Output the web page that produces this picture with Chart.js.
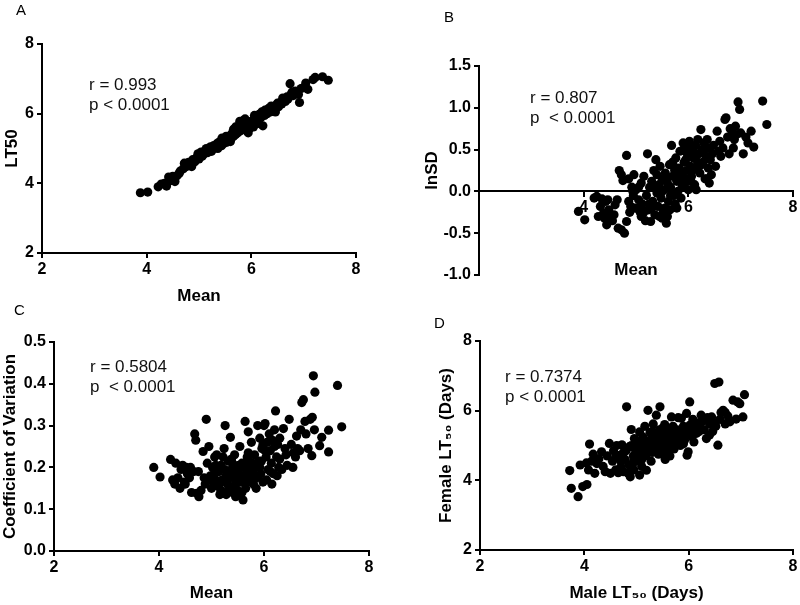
<!DOCTYPE html>
<html>
<head>
<meta charset="utf-8">
<script src="https://cdn.jsdelivr.net/npm/chart.js@4.4.1/dist/chart.umd.min.js"></script>
<style>
  html, body { margin:0; padding:0; background:#fff; }
  #wrap { position:relative; width:800px; height:605px; overflow:hidden; background:#fff; }
  canvas { position:absolute; }
  .lbl { position:absolute; font-family:"Liberation Sans", Arial, Helvetica, sans-serif; color:#000; white-space:pre; z-index:5; }
  .letter { font-size:15px; line-height:15px; }
  .ann { font-size:17px; line-height:20px; color:#111; }
</style>
</head>
<body>
<div id="wrap">
  <canvas id="cA" width="400" height="310" style="left:0px;top:0px;"></canvas>
  <canvas id="cB" width="400" height="300" style="left:400px;top:0px;"></canvas>
  <canvas id="cC" width="400" height="305" style="left:0px;top:300px;"></canvas>
  <canvas id="cD" width="400" height="305" style="left:400px;top:300px;"></canvas>

  <div class="lbl letter" style="left:16px;top:2px;">A</div>
  <div class="lbl letter" style="left:444px;top:9px;">B</div>
  <div class="lbl letter" style="left:14px;top:302px;">C</div>
  <div class="lbl letter" style="left:434px;top:315px;">D</div>

  <div class="lbl ann" style="left:89px;top:75px;">r = 0.993
p &lt; 0.0001</div>
  <div class="lbl ann" style="left:530px;top:88px;">r = 0.807
p  &lt; 0.0001</div>
  <div class="lbl ann" style="left:90px;top:357px;">r = 0.5804
p  &lt; 0.0001</div>
  <div class="lbl ann" style="left:505px;top:367px;">r = 0.7374
p &lt; 0.0001</div>
</div>
<script>
// ---- Data ----
const xTicks = [2, 4, 6, 8];

// Panel A: Mean vs LT50
const panelA = [
 [3.88,3.73],[4.02,3.75],[4.22,3.90],[4.28,3.98],[4.34,4.00],[4.38,3.92],[4.42,4.18],[4.46,4.08],[4.50,4.20],[4.54,4.05],
 [4.58,4.22],[4.64,4.35],[4.70,4.42],[4.72,4.58],[4.76,4.48],[4.80,4.60],[4.84,4.55],[4.88,4.68],[4.92,4.62],[4.96,4.75],
 [5.00,4.70],[5.04,4.90],[5.08,4.82],[5.12,4.95],[5.16,4.88],[5.20,4.98],[5.24,4.92],[5.28,5.08],[5.32,5.02],[5.35,5.15],
 [5.38,5.10],[5.40,5.20],[5.43,5.08],[5.46,5.22],[5.48,5.15],[5.50,5.28],[5.53,5.18],[5.56,5.32],[5.58,5.25],[5.60,5.38],
 [5.62,5.30],[5.64,5.45],[5.66,5.35],[5.68,5.50],[5.70,5.40],[5.72,5.58],[5.74,5.45],[5.76,5.65],[5.78,5.50],[5.80,5.72],
 [5.82,5.55],[5.84,5.80],[5.86,5.60],[5.88,5.68],[5.90,5.52],[5.92,5.75],[5.95,5.65],[5.97,5.58],[6.00,5.78],[6.02,5.70],
 [6.05,5.85],[6.08,5.75],[6.10,5.92],[6.12,5.82],[6.15,5.98],[6.18,5.88],[6.20,6.05],[6.22,5.65],[6.25,5.95],[6.28,6.08],
 [6.30,6.00],[6.33,6.15],[6.36,6.05],[6.40,6.18],[6.44,6.10],[6.48,6.25],[6.52,6.20],[6.55,6.32],[6.58,6.28],[6.62,6.40],
 [6.65,6.35],[6.68,6.48],[6.70,6.42],[6.74,6.86],[6.76,6.55],[6.80,6.52],[6.84,6.65],[6.88,6.60],[6.92,6.32],[6.95,6.72],
 [7.00,6.75],[7.04,6.88],[7.08,6.70],[7.18,6.98],[7.22,7.04],[7.36,7.06],[7.47,6.96],
 [5.06,4.78],[5.22,5.05],[5.36,5.00],[5.52,5.35],[5.60,5.20],[5.70,5.62],[5.78,5.78],[5.88,5.85],[5.94,5.45],[6.04,5.62],
 [6.14,5.72],[6.26,6.10],[6.38,6.22],[6.46,6.05],[6.60,6.45],[6.78,6.62],[6.90,6.55],[4.62,4.28],[4.86,4.48],[4.98,4.85],
 [5.14,5.00],[5.44,5.30],[5.66,5.55],[5.84,5.68],[6.06,5.95],[6.32,6.10],[6.50,6.30]
];

// Panel B: Mean vs lnSD
const panelB = [
 [3.90,-0.24],[4.02,-0.34],[4.20,-0.08],[4.25,-0.06],[4.28,-0.30],[4.32,-0.18],[4.35,-0.09],[4.38,-0.26],[4.40,-0.32],[4.42,-0.12],
 [4.44,-0.40],[4.46,-0.10],[4.48,-0.22],[4.50,-0.30],[4.55,-0.35],[4.60,-0.16],[4.64,-0.10],[4.66,-0.44],[4.72,-0.46],[4.78,-0.50],
 [4.82,-0.36],[4.86,-0.12],[4.88,-0.25],[4.90,-0.18],[4.95,-0.05],
 [4.68,0.25],[4.72,0.20],[4.75,0.13],[4.82,0.43],[4.86,0.15],[4.92,0.05],[4.96,0.20],[5.00,0.02],
 [5.02,-0.20],[5.05,-0.10],[5.08,-0.25],[5.10,0.10],[5.12,-0.15],[5.15,0.18],[5.18,-0.35],[5.20,-0.05],[5.22,0.45],[5.24,-0.22],
 [5.26,0.05],[5.28,-0.36],[5.30,0.12],[5.32,-0.12],[5.34,0.25],[5.36,-0.28],[5.38,0.38],[5.40,-0.02],[5.42,-0.18],[5.44,0.08],
 [5.46,0.30],[5.48,-0.08],[5.50,0.15],[5.52,-0.25],[5.54,0.02],[5.56,0.22],[5.58,-0.38],[5.60,0.10],[5.62,-0.12],[5.64,0.32],
 [5.66,0.05],[5.68,0.55],[5.70,0.18],[5.72,-0.05],[5.74,0.25],[5.76,0.40],[5.78,0.12],[5.80,0.00],[5.82,0.28],[5.84,0.48],
 [5.86,-0.08],[5.88,0.20],[5.90,0.58],[5.92,0.35],[5.94,0.10],[5.96,0.25],[5.98,0.45],[6.00,0.02],[6.02,0.60],[6.04,0.30],
 [6.06,0.18],[6.08,0.50],[6.10,0.40],[6.12,0.08],[6.14,0.55],[6.16,0.28],[6.18,0.62],[6.20,0.45],[6.22,0.22],[6.24,0.74],
 [6.26,0.50],[6.28,0.35],[6.30,0.58],[6.32,0.15],[6.34,0.42],[6.36,0.62],[6.38,0.28],[6.40,0.52],[6.42,0.38],[6.44,0.20],
 [6.46,0.45],[6.48,0.55],[6.52,0.30],[6.55,0.72],[6.58,0.48],[6.62,0.42],[6.66,0.52],[6.70,0.86],[6.72,0.88],[6.75,0.65],
 [6.78,0.45],[6.80,0.75],[6.84,0.70],[6.86,0.52],[6.90,0.78],[6.92,0.68],[6.95,1.07],[6.98,0.98],[7.00,0.70],[7.05,0.45],
 [7.10,0.65],[7.14,0.58],[7.20,0.72],[7.25,0.53],[7.42,1.08],[7.50,0.80],
 [5.45,-0.30],[5.55,-0.20],[5.65,-0.22],[5.75,-0.15],[5.85,0.15],[5.95,0.38],[6.05,0.12],[6.15,0.02],[5.35,0.05],[5.25,-0.15],
 [5.15,-0.25],[5.05,0.05],[4.98,-0.20],[4.94,0.00],[5.70,0.35],[5.80,0.22],[5.60,-0.30],[5.50,-0.32],[6.25,0.32],[6.35,0.15],
 [5.40,0.20],[5.50,0.00],[5.58,0.15],[5.66,-0.05],[5.72,0.30],[5.78,-0.20],[5.88,0.05],[5.98,0.15],[6.08,0.25],[6.18,0.35],
 [6.28,0.48],[5.92,0.50],[6.00,0.55],[6.12,0.45],[5.30,-0.20],[5.10,-0.30],[4.58,-0.28],[6.40,0.10],[6.60,0.60],[6.88,0.62]
];

// Panel C: Mean vs Coefficient of Variation
const panelC = [
 [3.90,0.200],[4.02,0.177],[4.22,0.219],[4.26,0.170],[4.30,0.160],[4.32,0.210],[4.36,0.175],[4.40,0.150],[4.42,0.195],[4.45,0.205],
 [4.48,0.165],[4.50,0.160],[4.54,0.185],[4.58,0.175],[4.62,0.140],[4.66,0.190],[4.68,0.280],[4.70,0.265],[4.72,0.138],[4.76,0.130],
 [4.80,0.145],[4.84,0.238],[4.86,0.175],[4.88,0.160],[4.90,0.315],[4.92,0.210],[4.95,0.250],[4.98,0.180],[5.00,0.150],[5.02,0.200],
 [5.04,0.165],[5.06,0.225],[5.08,0.170],[5.10,0.230],[5.12,0.155],[5.14,0.190],[5.16,0.135],[5.18,0.205],[5.20,0.170],[5.22,0.140],
 [5.24,0.245],[5.26,0.300],[5.28,0.180],[5.30,0.160],[5.32,0.215],[5.34,0.150],[5.36,0.272],[5.38,0.195],[5.40,0.140],[5.42,0.175],
 [5.44,0.230],[5.46,0.160],[5.48,0.200],[5.50,0.145],[5.52,0.185],[5.54,0.250],[5.56,0.165],[5.58,0.210],[5.60,0.122],[5.62,0.180],
 [5.64,0.310],[5.66,0.195],[5.68,0.225],[5.70,0.285],[5.72,0.170],[5.74,0.205],[5.76,0.260],[5.78,0.190],[5.80,0.160],[5.82,0.230],
 [5.84,0.200],[5.86,0.175],[5.88,0.300],[5.90,0.215],[5.92,0.270],[5.94,0.185],[5.96,0.245],[5.98,0.165],[6.00,0.300],[6.02,0.305],
 [6.04,0.225],[6.06,0.260],[6.08,0.195],[6.10,0.280],[6.12,0.240],[6.14,0.210],[6.16,0.265],[6.18,0.185],[6.20,0.290],[6.22,0.335],
 [6.24,0.225],[6.26,0.255],[6.28,0.200],[6.30,0.270],[6.34,0.195],[6.37,0.293],[6.40,0.245],[6.44,0.205],[6.48,0.315],[6.52,0.255],
 [6.56,0.235],[6.60,0.225],[6.64,0.245],[6.68,0.240],[6.72,0.355],[6.75,0.362],[6.78,0.310],[6.80,0.280],[6.84,0.245],[6.88,0.315],
 [6.91,0.228],[6.92,0.320],[6.94,0.419],[6.96,0.290],[6.97,0.380],[7.06,0.252],[7.10,0.272],[7.23,0.289],[7.23,0.237],[7.40,0.396],
 [7.48,0.297],
 [5.15,0.160],[5.25,0.195],[5.35,0.175],[5.45,0.190],[5.55,0.175],[5.65,0.150],[5.75,0.180],[5.85,0.150],[5.28,0.135],[5.38,0.220],
 [5.48,0.170],[5.58,0.140],[5.68,0.165],[5.78,0.210],[5.95,0.215],[6.05,0.170],[6.15,0.160],[6.25,0.180],[4.60,0.200],[4.75,0.190],
 [4.96,0.170],[5.05,0.185],
 [5.18,0.145],[5.32,0.185],[5.42,0.155],[5.52,0.205],[5.62,0.200],[5.72,0.215],[5.82,0.180],[5.92,0.200],[6.02,0.240],[6.12,0.190],
 [5.08,0.205],[5.22,0.225],[5.46,0.130],[5.56,0.140],[5.40,0.210],[6.30,0.220],[6.42,0.230],[6.55,0.200],[6.62,0.275],[6.70,0.290],
 [5.70,0.235],[5.98,0.255],[6.20,0.250],[4.52,0.200]
];

// Panel D: Male LT50 vs Female LT50
const panelD = [
 [3.72,4.28],[3.75,3.77],[3.88,3.53],[3.92,4.44],[3.97,3.82],[4.05,3.88],[4.04,4.50],[4.08,4.30],[4.10,5.04],[4.14,4.55],
 [4.17,4.75],[4.20,4.20],[4.24,4.48],[4.28,4.62],[4.33,4.82],[4.36,4.40],[4.40,4.25],[4.44,4.70],[4.48,5.06],[4.50,4.20],
 [4.54,4.55],[4.56,4.85],[4.60,4.30],[4.62,5.00],[4.65,4.22],[4.68,4.72],[4.70,4.38],[4.72,5.02],[4.75,4.25],[4.78,4.60],
 [4.80,4.85],[4.81,6.11],[4.84,4.20],[4.86,4.96],[4.88,4.10],[4.90,5.46],[4.92,4.45],[4.94,4.70],[4.96,5.20],[4.98,4.88],
 [5.00,4.55],[5.02,5.05],[5.04,4.75],[5.06,4.15],[5.06,5.39],[5.08,4.95],[5.10,4.60],[5.12,5.25],[5.14,4.85],[5.16,5.55],
 [5.18,4.70],[5.19,4.29],[5.20,5.10],[5.22,6.01],[5.24,4.95],[5.26,5.38],[5.28,4.55],[5.30,5.15],[5.32,5.62],[5.34,4.90],
 [5.36,5.30],[5.38,5.87],[5.40,5.05],[5.42,4.75],[5.44,5.45],[5.45,6.11],[5.46,5.20],[5.48,4.95],[5.50,5.35],[5.52,5.10],
 [5.54,5.60],[5.56,4.85],[5.58,5.25],[5.60,5.50],[5.62,5.05],[5.64,4.70],[5.66,5.38],[5.67,5.82],[5.68,5.15],[5.70,5.55],
 [5.72,4.90],[5.74,5.30],[5.76,5.10],[5.78,5.45],[5.80,5.80],[5.82,5.20],[5.84,5.00],[5.86,5.78],[5.88,5.35],[5.90,5.55],
 [5.92,5.15],[5.96,5.92],[5.97,4.72],[5.99,4.82],[6.00,5.40],[6.02,6.25],[6.04,5.60],[6.06,5.25],[6.08,5.75],[6.12,5.50],
 [6.15,5.35],[6.18,5.65],[6.22,5.55],[6.24,5.87],[6.26,5.70],[6.30,5.45],[6.34,5.20],[6.36,5.80],[6.40,5.62],[6.44,5.82],
 [6.46,5.40],[6.50,6.78],[6.52,5.55],[6.56,5.01],[6.58,6.82],[6.60,5.75],[6.62,5.95],[6.66,6.01],[6.70,5.62],[6.75,5.85],
 [6.79,5.68],[6.85,6.30],[6.91,5.76],[6.94,6.25],[6.98,6.20],[7.04,5.82],[7.07,6.46],
 [5.05,4.90],[5.15,5.05],[5.25,5.15],[5.35,5.08],[5.45,5.25],[5.55,5.15],[5.65,5.28],[5.75,5.42],[5.85,5.25],[4.95,4.60],
 [4.85,4.45],[4.75,4.80],[5.10,4.40],[5.30,4.80],[5.50,4.75],[5.70,5.00],[5.95,5.30],[6.10,5.10],
 [5.20,4.80],[5.40,4.90],[5.60,5.10],[5.80,5.35],[5.90,5.05],[6.00,5.55],[6.20,5.40],[6.30,5.75],[5.50,5.50],[5.30,5.40],
 [5.10,5.15],[4.90,5.00],[4.70,4.55],[4.60,4.65],[6.40,5.30],[6.50,5.65],[6.70,5.95],[5.65,4.90],[4.95,4.30],[5.55,4.60]
];

const yTicksA = [2, 4, 6, 8];
const yTicksB = [-1.0, -0.5, 0.0, 0.5, 1.0, 1.5];
const yTicksC = [0.0, 0.1, 0.2, 0.3, 0.4, 0.5];
const yTicksD = [2, 4, 6, 8];

// ---- Rendering ----
const FAM = '"Liberation Sans", Arial, Helvetica, sans-serif';
Chart.defaults.color = '#000';
Chart.defaults.font.family = FAM;

function axisCommon() {
  return {
    type: 'linear',
    grid: { display: true, drawOnChartArea: false, drawTicks: true, tickLength: 5, color: '#000', lineWidth: 2 },
    border: { display: true, color: '#000', width: 2 }
  };
}

function makeChart(id, points, cfg) {
  const x = Object.assign(axisCommon(), {
    position: cfg.xPosition || 'bottom',
    min: xTicks[0], max: xTicks[xTicks.length - 1],
    afterBuildTicks: s => { s.ticks = xTicks.map(v => ({ value: v })); },
    ticks: {
      font: { family: FAM, size: 16, weight: 'bold' }, color: '#000', padding: 2,
      callback: v => (cfg.hideX && cfg.hideX.includes(v)) ? '' : String(v)
    },
    title: { display: true, text: cfg.xTitle, color: '#000',
      font: { family: FAM, size: 17, weight: 'bold' }, padding: { top: 0, bottom: cfg.xTitlePad } },
    afterFit: s => { s.height = cfg.xHeight; }
  });
  const yt = cfg.yTicks;
  const y = Object.assign(axisCommon(), {
    position: 'left',
    min: yt[0], max: yt[yt.length - 1],
    afterBuildTicks: s => { s.ticks = yt.map(v => ({ value: v })); },
    ticks: {
      font: { family: FAM, size: 16, weight: 'bold' }, color: '#000', padding: 3,
      callback: v => v.toFixed(cfg.yDec)
    },
    title: { display: true, text: cfg.yTitle, color: '#000',
      font: { family: FAM, size: 17, weight: 'bold' }, padding: { top: cfg.yTitlePad, bottom: 0 } },
    afterFit: s => { s.width = cfg.yWidth; }
  });
  return new Chart(document.getElementById(id), {
    type: 'scatter',
    data: { datasets: [{
      data: points.map(p => ({ x: p[0], y: p[1] })),
      backgroundColor: '#000', borderColor: '#000', borderWidth: 0,
      pointRadius: 4.6, pointHoverRadius: 4.6
    }] },
    options: {
      responsive: false, animation: false, devicePixelRatio: 1,
      layout: { padding: cfg.padding },
      plugins: { legend: { display: false }, tooltip: { enabled: false } },
      scales: { x, y }
    }
  });
}

makeChart('cA', panelA, {
  xTitle: 'Mean', yTitle: 'LT50', yTicks: yTicksA, yDec: 0,
  yWidth: 42, xHeight: 57, padding: { left: 0, top: 44, right: 44, bottom: 0 },
  xTitlePad: 3.3, yTitlePad: 1.8
});
makeChart('cB', panelB, {
  xTitle: 'Mean', yTitle: 'lnSD', yTicks: yTicksB, yDec: 1,
  xPosition: { y: 0 }, hideX: [2],
  yWidth: 79, xHeight: 88.8, padding: { left: 0, top: 66, right: 7, bottom: 25 },
  xTitlePad: 0, yTitlePad: 21.8
});
makeChart('cC', panelC, {
  xTitle: 'Mean', yTitle: 'Coefficient of Variation', yTicks: yTicksC, yDec: 1,
  yWidth: 54, xHeight: 54, padding: { left: 0, top: 42, right: 31, bottom: 0 },
  xTitlePad: 1.8, yTitlePad: 0
});
makeChart('cD', panelD, {
  xTitle: 'Male LT\u2085\u2080 (Days)', yTitle: 'Female LT\u2085\u2080 (Days)', yTicks: yTicksD, yDec: 0,
  yWidth: 80, xHeight: 55, padding: { left: 0, top: 41, right: 7, bottom: 0 },
  xTitlePad: 1.8, yTitlePad: 36.5
});
</script>
</body>
</html>
